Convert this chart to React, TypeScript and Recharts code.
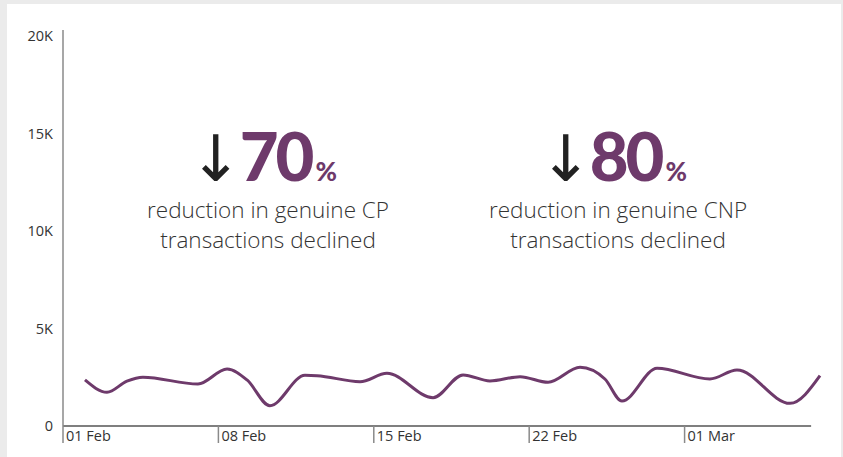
import React from 'react';
import { LineChart, Line, XAxis, YAxis, ReferenceLine } from 'recharts';

// day offsets from 01 Feb and declined transactions
const days = [0.99, 1.98, 2.88, 3.6, 6.08, 7.39, 8.29, 9.32, 10.9, 11.44, 13.38, 14.59, 16.67, 18.02, 19.23, 20.59, 21.85, 23.29, 24.41, 25.18, 26.76, 29.14, 30.36, 32.75, 34.1];
const values = [2360, 1730, 2300, 2500, 2150, 2920, 2360, 1040, 2600, 2580, 2270, 2700, 1450, 2620, 2310, 2530, 2240, 3010, 2410, 1280, 2960, 2410, 2870, 1160, 2580];

const xTicks = [0, 7, 14, 21, 28];
const xTickLabels = ['01 Feb', '08 Feb', '15 Feb', '22 Feb', '01 Mar'];
const yTicks = [0, 5000, 10000, 15000, 20000];
const yTickLabels = ['0', '5K', '10K', '15K', '20K'];

const stats = [
  { pct: '70', text1: 'reduction in genuine CP', text2: 'transactions declined' },
  { pct: '80', text1: 'reduction in genuine CNP', text2: 'transactions declined' },
];

const data = days.map((d, i) => ({ day: d, value: values[i] }));

const PURPLE = '#6e3a6b';
const FONT = "'Open Sans', 'Noto Sans', sans-serif";

const XTick = (props: any) => {
  const { x, y, index } = props;
  return (
    <g>
      <line x1={x} y1={y} x2={x} y2={y + 17} stroke="#8a8a8a" strokeWidth={1.5} />
      <text x={x + 3} y={y + 10} dy="0.35em" textAnchor="start" fontSize={14.5} fill="#333" fontFamily={FONT}>
        {xTickLabels[index]}
      </text>
    </g>
  );
};

export default function App() {
  const centers = [263, 613];
  const textCenters = [268, 618];
  return (
    <div style={{ position: 'fixed', left: 0, top: 0, width: 843, height: 457, background: '#ebebeb', overflow: 'hidden' }}>
      <div style={{ position: 'absolute', left: 7, top: 4, width: 834, height: 470, background: '#fff' }} />
      <div style={{ position: 'absolute', left: 0, top: 0 }}>
        <LineChart width={843} height={457} data={data} margin={{ top: 30, right: 23, bottom: 0, left: 0 }}>
          <YAxis
            dataKey="value"
            type="number"
            width={63}
            domain={[0, 20300]}
            ticks={yTicks}
            interval={0}
            tickLine={false}
            tickSize={0}
            tickMargin={10}
            axisLine={{ stroke: '#8a8a8a', strokeWidth: 1.5 }}
            tickFormatter={(v: number) => yTickLabels[yTicks.indexOf(v)]}
            tick={{ fontSize: 14.5, fill: '#333', fontFamily: FONT }}
          />
          <XAxis
            dataKey="day"
            type="number"
            height={31}
            domain={[0, 34.1]}
            ticks={xTicks}
            interval={0}
            axisLine={false}
            tickLine={false}
            tickSize={0}
            tickMargin={0}
            tick={<XTick />}
          />
          <ReferenceLine
            segment={[{ x: 0, y: 0 }, { x: 33.7, y: 0 }]}
            stroke="#555"
            strokeWidth={1.5}
            ifOverflow="visible"
          />
          <Line
            type="monotone"
            dataKey="value"
            stroke={PURPLE}
            strokeWidth={3}
            dot={false}
            isAnimationActive={false}
          />
        </LineChart>
      </div>
      <svg width={843} height={457} style={{ position: 'absolute', left: 0, top: 0, pointerEvents: 'none' }}>
        {stats.map((s, i) => (
          <g key={i}>
            <text x={centers[i]} y={181} textAnchor="middle">
              <tspan fontFamily="'DejaVu Sans', sans-serif" fontSize={64} fill="#222">↓</tspan>
              <tspan fontFamily="Lato, sans-serif" fontWeight={900} fontSize={67} letterSpacing={-3} fill={PURPLE} dx={-3}>{s.pct}</tspan>
              <tspan fontFamily="Lato, sans-serif" fontWeight={900} fontSize={26} fill={PURPLE} dx={4}>%</tspan>
            </text>
            <text x={textCenters[i]} y={218} textAnchor="middle" fontFamily={FONT} fontWeight={300} fontSize={22.5} fill="#333">{s.text1}</text>
            <text x={textCenters[i]} y={248} textAnchor="middle" fontFamily={FONT} fontWeight={300} fontSize={22.5} fill="#333">{s.text2}</text>
          </g>
        ))}
      </svg>
    </div>
  );
}
